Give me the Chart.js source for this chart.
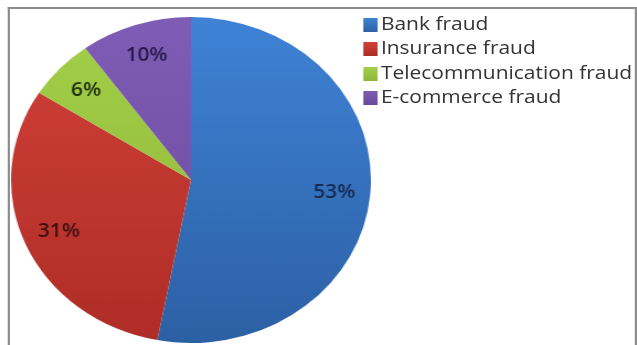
<!DOCTYPE html>
<html>
<head>
<meta charset="utf-8">
<script src="https://cdn.jsdelivr.net/npm/chart.js@4/dist/chart.umd.min.js"></script>
<style>
  html, body { margin: 0; padding: 0; background: #fff; overflow: hidden; }
  #wrap {
    position: absolute; left: 0; top: 0;
    width: 577px; height: 345px;
    transform: scaleX(1.104); transform-origin: 0 0;
  }
  #frame {
    position: absolute; left: 7px; top: 7px; width: 566px; height: 400px;
    border: 2px solid #8c8c8c; border-bottom: none;
  }
  canvas { position: absolute; left: 0; top: 0; }
  #legend { position: absolute; left: 329px; top: 13px; font-family: "Open Sans", sans-serif; font-size: 19px; color: #333; }
  .item { position: relative; height: 24.4px; line-height: 22px; white-space: nowrap; }
  .sw { position: absolute; left: 0; top: 5px; width: 13px; height: 14px; }
  .lbl { position: absolute; left: 16px; top: -1px; }
</style>
</head>
<body>
<div id="wrap">
  <div id="frame"></div>
  <canvas id="c" width="577" height="345"></canvas>
  <div id="legend"></div>
</div>
<script>
// Fraud types and their share of cases (%)
const categories = ['Bank fraud', 'Insurance fraud', 'Telecommunication fraud', 'E-commerce fraud'];
const shares = [53, 31, 6, 10];

// Slice shading: light at the top, deeper at the bottom
const topColors = ['#3f82d6', '#d2413a', '#a3cf48', '#7f5db6'];
const bottomColors = ['#2c60a4', '#ae2d26', '#8db63a', '#69489a'];
const textColors = ['#172a52', '#3e1210', '#1f3210', '#2a1a4c'];

function shade(ctx) {
  const chart = ctx.chart;
  const area = chart.chartArea;
  const i = ctx.dataIndex;
  if (!area) return topColors[i];
  const g = chart.ctx.createLinearGradient(0, area.top, 0, area.bottom);
  g.addColorStop(0, topColors[i]);
  g.addColorStop(1, bottomColors[i]);
  return g;
}

// Percentage labels inside each slice
const sliceLabels = {
  id: 'sliceLabels',
  afterDatasetsDraw(chart) {
    const ctx = chart.ctx;
    const meta = chart.getDatasetMeta(0);
    ctx.save();
    ctx.font = '600 19px "Open Sans", sans-serif';
    ctx.textAlign = 'center';
    ctx.textBaseline = 'middle';
    meta.data.forEach((arc, i) => {
      const p = arc.getProps(['x', 'y', 'startAngle', 'endAngle', 'outerRadius'], true);
      const mid = (p.startAngle + p.endAngle) / 2;
      const r = p.outerRadius * 0.8;
      ctx.fillStyle = textColors[i];
      ctx.fillText(shares[i] + '%', p.x + Math.cos(mid) * r, p.y + Math.sin(mid) * r);
    });
    ctx.restore();
  }
};

new Chart(document.getElementById('c'), {
  type: 'pie',
  data: {
    labels: categories,
    datasets: [{
      data: shares,
      backgroundColor: shade,
      borderWidth: 0
    }]
  },
  options: {
    responsive: false,
    devicePixelRatio: 1,
    animation: false,
    layout: { padding: { left: 10, top: 17, right: 241, bottom: 2 } },
    plugins: { legend: { display: false }, tooltip: { enabled: false } }
  },
  plugins: [sliceLabels]
});

// Legend
const legend = document.getElementById('legend');
categories.forEach((name, i) => {
  const row = document.createElement('div');
  row.className = 'item';
  const sw = document.createElement('span');
  sw.className = 'sw';
  sw.style.background = 'linear-gradient(' + topColors[i] + ',' + bottomColors[i] + ')';
  const lbl = document.createElement('span');
  lbl.className = 'lbl';
  lbl.textContent = name;
  row.appendChild(sw);
  row.appendChild(lbl);
  legend.appendChild(row);
});
</script>
</body>
</html>
